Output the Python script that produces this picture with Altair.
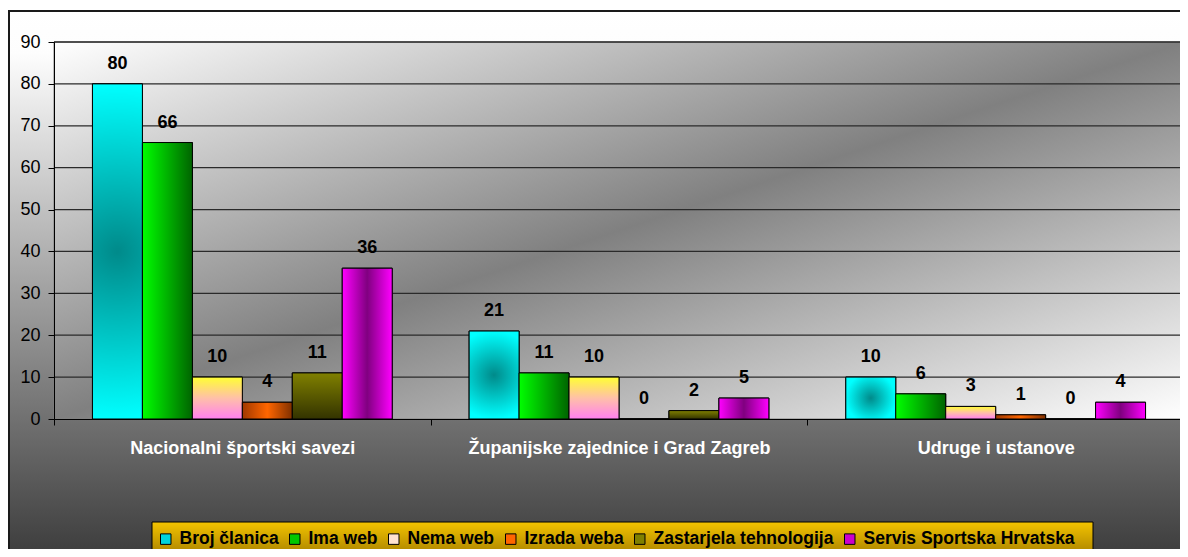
import altair as alt
import pandas as pd

FONT = "Liberation Sans"

# ---- data ----
kategorije = ["Nacionalni športski savezi", "Županijske zajednice i Grad Zagreb", "Udruge i ustanove"]
serije = ["Broj članica", "Ima web", "Nema web", "Izrada weba", "Zastarjela tehnologija", "Servis Sportska Hrvatska"]
broj_clanica = [80, 21, 10]
ima_web = [66, 11, 6]
nema_web = [10, 10, 3]
izrada_weba = [4, 0, 1]
zastarjela_tehnologija = [11, 2, 0]
servis_sportska_hrvatska = [36, 5, 4]
y_ticks = [0, 10, 20, 30, 40, 50, 60, 70, 80, 90]
grid_values = [10, 20, 30, 40, 50, 60, 70, 80, 90]
legend_colors = ["#00d4dc", "#00c800", "#ffe2d0", "#ff6600", "#808000", "#cc00cc"]

series_values = [broj_clanica, ima_web, nema_web, izrada_weba,
                 zastarjela_tehnologija, servis_sportska_hrvatska]
rows = []
for s, vals in zip(serije, series_values):
    for k, v in zip(kategorije, vals):
        rows.append({"kategorija": k, "serija": s, "vrijednost": v})
df = pd.DataFrame(rows)
grid_df = pd.DataFrame({"vrijednost": grid_values})
one = pd.DataFrame({"a": [0]})

# ---- styling ----
W, H = 1130, 377


def lin(x1, y1, x2, y2, stops):
    return {"gradient": "linear", "x1": x1, "y1": y1, "x2": x2, "y2": y2,
            "stops": [{"offset": o, "color": c} for o, c in stops]}


bar_fills = [
    {"gradient": "radial", "x1": 0.5, "y1": 0.5, "r1": 0, "x2": 0.5, "y2": 0.5, "r2": 0.5,
     "stops": [{"offset": 0, "color": "#008a8a"}, {"offset": 1, "color": "#00ffff"}]},
    lin(0, 0, 1, 0, [(0, "#00ff00"), (1, "#006400")]),
    lin(0, 0, 0, 1, [(0, "#ffff33"), (0.5, "#ffc0a8"), (1, "#ff80f0")]),
    lin(0, 0, 1, 0, [(0, "#a03800"), (0.5, "#ff6600"), (1, "#803000")]),
    lin(0, 0, 0, 1, [(0, "#808000"), (1, "#333300")]),
    lin(0, 0, 1, 0, [(0, "#ff00ff"), (0.5, "#800080"), (1, "#ff00ff")]),
]

xscale = alt.Scale(domain=kategorije, paddingInner=0, paddingOuter=0)
xoffscale = alt.Scale(domain=serije, paddingInner=0, paddingOuter=0.77)
yscale = alt.Scale(domain=[0, 90], nice=False, zero=True)

xaxis = alt.Axis(title=None, labelAngle=0, labelColor="white", labelFont=FONT,
                 labelFontWeight="bold", labelFontSize=18, labelPadding=14,
                 tickSize=6, tickColor="black", tickBand="extent",
                 domainColor="black", grid=False, zindex=1, labelLimit=0)
yaxis = alt.Axis(title=None, values=y_ticks, labelFont=FONT, labelFontSize=18,
                 labelColor="black", labelPadding=8, tickSize=6, tickColor="black",
                 domainColor="black", grid=False, zindex=1)

xenc = alt.X("kategorija:N", scale=xscale, axis=xaxis, sort=kategorije)
xoffenc = alt.XOffset("serija:N", scale=xoffscale, sort=serije)
yenc = alt.Y("vrijednost:Q", scale=yscale, axis=yaxis)

# ---- background layers ----
outer_bg = alt.Chart(one).mark_rect(
    fill=lin(0, 0, 0, 1, [(0, "#ffffff"), (0.08, "#fdfdfd"), (0.5, "#a4a4a4"),
                          (0.8, "#666666"), (1, "#3c3c3c")])
).encode(x=alt.value(-46), x2=alt.value(1140), y=alt.value(-32), y2=alt.value(515))

frame_left = alt.Chart(one).mark_rule(color="#1a1a1a", strokeWidth=2).encode(
    x=alt.value(-45), y=alt.value(-32), y2=alt.value(530))
frame_top = alt.Chart(one).mark_rule(color="#1a1a1a", strokeWidth=2).encode(
    y=alt.value(-31), x=alt.value(-46), x2=alt.value(1140))

plot_bg = alt.Chart(one).mark_rect(
    fill=lin(0, 0, 1, 1, [(0, "#ffffff"), (0.5, "#808080"), (1, "#ffffff")]),
    stroke="#808080", strokeWidth=1
).encode(x=alt.value(0), x2=alt.value(W), y=alt.value(0), y2=alt.value(H))

grid = alt.Chart(grid_df).mark_rule(color="#2a2a2a", strokeWidth=1.3).encode(y=yenc)

legend_bg = alt.Chart(one).mark_rect(
    fill=lin(0, 0, 0, 1, [(0, "#f4c400"), (1, "#9a7400")]),
    stroke="black", strokeWidth=1
).encode(x=alt.value(98), x2=alt.value(1039), y=alt.value(480), y2=alt.value(520))

# ---- bars ----
base_bars = alt.Chart(df).mark_bar(stroke="black", strokeWidth=1).encode(
    x=xenc, xOffset=xoffenc, y=yenc,
    color=alt.Color("serija:N", scale=alt.Scale(domain=serije, range=legend_colors),
                    sort=serije,
                    legend=alt.Legend(title=None, orient="none", legendX=103, legendY=488,
                                      direction="horizontal", columns=6,
                                      symbolType="square", symbolSize=110,
                                      symbolStrokeColor="black", symbolStrokeWidth=1,
                                      labelFont=FONT, labelFontWeight="bold",
                                      labelFontSize=17.5, labelColor="black",
                                      labelOffset=5, columnPadding=7, padding=0,
                                      labelLimit=0, zindex=2)),
)

grad_layers = []
for s, fill in zip(serije, bar_fills):
    grad_layers.append(
        alt.Chart(df).transform_filter(alt.datum.serija == s)
        .mark_bar(fill=fill, stroke="black", strokeWidth=1)
        .encode(x=xenc, xOffset=xoffenc, y=yenc)
    )

labels = alt.Chart(df).mark_text(
    font=FONT, fontSize=18, fontWeight="bold", color="black",
    baseline="alphabetic", dy=-15
).encode(x=xenc, xOffset=xoffenc, y=yenc, text="vrijednost:Q")

chart = alt.layer(
    outer_bg, frame_left, frame_top, plot_bg, grid, base_bars, *grad_layers, labels, legend_bg
).properties(
    width=W, height=H,
    autosize=alt.AutoSizeParams(type="none"),
    padding={"left": 46, "top": 34, "right": -4, "bottom": 130},
    background="white",
).configure_view(strokeWidth=0)

chart.save("out.html", embed_options={"renderer": "svg", "actions": False})
